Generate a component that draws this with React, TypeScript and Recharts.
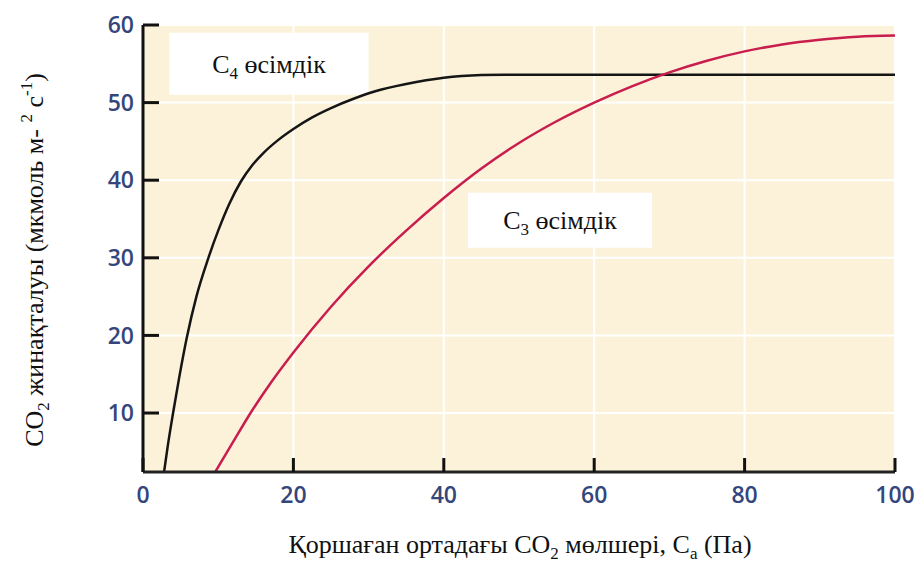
import { CartesianGrid, Line, LineChart, ReferenceArea, XAxis, YAxis } from "recharts"

// C4 curve (x: Pa, y: мкмоль м-2 с-1)
const c4Data = [
  { x: 2.8, y: 2.4 },
  { x: 3.3, y: 5.8 },
  { x: 4.0, y: 10 },
  { x: 4.8, y: 14.5 },
  { x: 5.8, y: 19.6 },
  { x: 7.1, y: 25 },
  { x: 8.7, y: 30 },
  { x: 10, y: 33.5 },
  { x: 11.5, y: 37 },
  { x: 13, y: 39.8 },
  { x: 14.5, y: 41.9 },
  { x: 16, y: 43.5 },
  { x: 18, y: 45.2 },
  { x: 20, y: 46.6 },
  { x: 22.5, y: 48.1 },
  { x: 25, y: 49.3 },
  { x: 28, y: 50.5 },
  { x: 31, y: 51.5 },
  { x: 35, y: 52.4 },
  { x: 40, y: 53.2 },
  { x: 45, y: 53.55 },
  { x: 48, y: 53.6 },
  { x: 100, y: 53.6 },
]

// C3 curve
const c3Data = [
  { x: 9.6, y: 2.4 },
  { x: 12, y: 6.3 },
  { x: 14.3, y: 10 },
  { x: 17, y: 13.9 },
  { x: 20, y: 17.8 },
  { x: 25, y: 23.7 },
  { x: 30, y: 28.9 },
  { x: 35, y: 33.5 },
  { x: 40, y: 37.7 },
  { x: 45, y: 41.5 },
  { x: 50, y: 44.8 },
  { x: 55, y: 47.6 },
  { x: 60, y: 50 },
  { x: 65, y: 52.1 },
  { x: 70, y: 53.9 },
  { x: 75, y: 55.4 },
  { x: 80, y: 56.6 },
  { x: 85, y: 57.5 },
  { x: 90, y: 58.1 },
  { x: 95, y: 58.5 },
  { x: 100, y: 58.65 },
]

const xTicks = [0, 20, 40, 60, 80, 100]
const yTicks = [10, 20, 30, 40, 50, 60]

// label boxes: [x1, x2, y1, y2] in data units
const c4Box = [3.5, 30, 51, 59]
const c3Box = [43.2, 67.7, 31.3, 38.4]

const serif = "'Liberation Serif', 'Times New Roman', serif"
const tickStyle = { fill: "#34467c", fontSize: 23, fontWeight: 600, fontFamily: "'Open Sans', sans-serif" }

function BoxLabel({ viewBox, sub }: any) {
  const cx = viewBox.x + viewBox.width / 2
  const cy = viewBox.y + viewBox.height / 2 + 9
  return (
    <text x={cx} y={cy} textAnchor="middle" fontFamily={serif} fontSize={26} fill="#111">
      C<tspan fontSize={17} dy={6}>{sub}</tspan>
      <tspan dy={-6}> өсімдік</tspan>
    </text>
  )
}

function XTitle({ viewBox }: any) {
  const cx = viewBox.x + viewBox.width / 2 + 1
  return (
    <text x={cx} y={553} textAnchor="middle" fontFamily={serif} fontSize={26} fill="#111">
      Қоршаған ортадағы CO<tspan fontSize={17} dy={6}>2</tspan>
      <tspan dy={-6}> мөлшері, C</tspan>
      <tspan fontSize={17} dy={6}>a</tspan>
      <tspan dy={-6}> (Па)</tspan>
    </text>
  )
}

function YTitle() {
  const x = 43
  const y = 260
  return (
    <text
      x={x}
      y={y}
      transform={`rotate(-90 ${x} ${y})`}
      textAnchor="middle"
      fontFamily={serif}
      fontSize={26}
      fill="#111"
    >
      CO<tspan fontSize={17} dy={6}>2</tspan>
      <tspan dy={-6}> жинақталуы (мкмоль м- </tspan>
      <tspan fontSize={17} dy={-11}>2</tspan>
      <tspan dy={11}> с</tspan>
      <tspan fontSize={17} dy={-11}>-1</tspan>
      <tspan dy={11}>)</tspan>
    </text>
  )
}

export default function App() {
  return (
    <div style={{ position: "absolute", left: 0, top: 0, background: "#fff" }}>
      <LineChart width={923} height={562} margin={{ top: 25, right: 28, bottom: 60, left: 83 }}>
        <CartesianGrid fill="#fcf2da" stroke="#ffffff" strokeWidth={2} />
        <XAxis
          type="number"
          dataKey="x"
          domain={[0, 100]}
          ticks={xTicks}
          height={30}
          tickSize={-14}
          tickMargin={29}
          tick={tickStyle}
          tickLine={{ stroke: "#111", strokeWidth: 3 }}
          axisLine={{ stroke: "#222", strokeWidth: 3 }}
          label={{ content: (p: any) => <XTitle {...p} /> }}
        />
        <YAxis
          type="number"
          domain={[2.4, 60]}
          allowDataOverflow
          ticks={yTicks}
          width={60}
          tickSize={-16}
          tickMargin={25}
          tick={tickStyle}
          tickLine={{ stroke: "#111", strokeWidth: 3 }}
          axisLine={{ stroke: "#111", strokeWidth: 3 }}
          label={{ content: () => <YTitle /> }}
        />
        <ReferenceArea
          x1={c4Box[0]}
          x2={c4Box[1]}
          y1={c4Box[2]}
          y2={c4Box[3]}
          fill="#ffffff"
          fillOpacity={1}
          stroke="none"
          label={{ content: (p: any) => <BoxLabel {...p} sub="4" /> }}
        />
        <ReferenceArea
          x1={c3Box[0]}
          x2={c3Box[1]}
          y1={c3Box[2]}
          y2={c3Box[3]}
          fill="#ffffff"
          fillOpacity={1}
          stroke="none"
          label={{ content: (p: any) => <BoxLabel {...p} sub="3" /> }}
        />
        <Line
          data={c4Data}
          dataKey="y"
          type="monotone"
          stroke="#151515"
          strokeWidth={2.5}
          dot={false}
          isAnimationActive={false}
        />
        <Line
          data={c3Data}
          dataKey="y"
          type="monotone"
          stroke="#c91d4e"
          strokeWidth={2.5}
          dot={false}
          isAnimationActive={false}
        />
      </LineChart>
    </div>
  )
}
